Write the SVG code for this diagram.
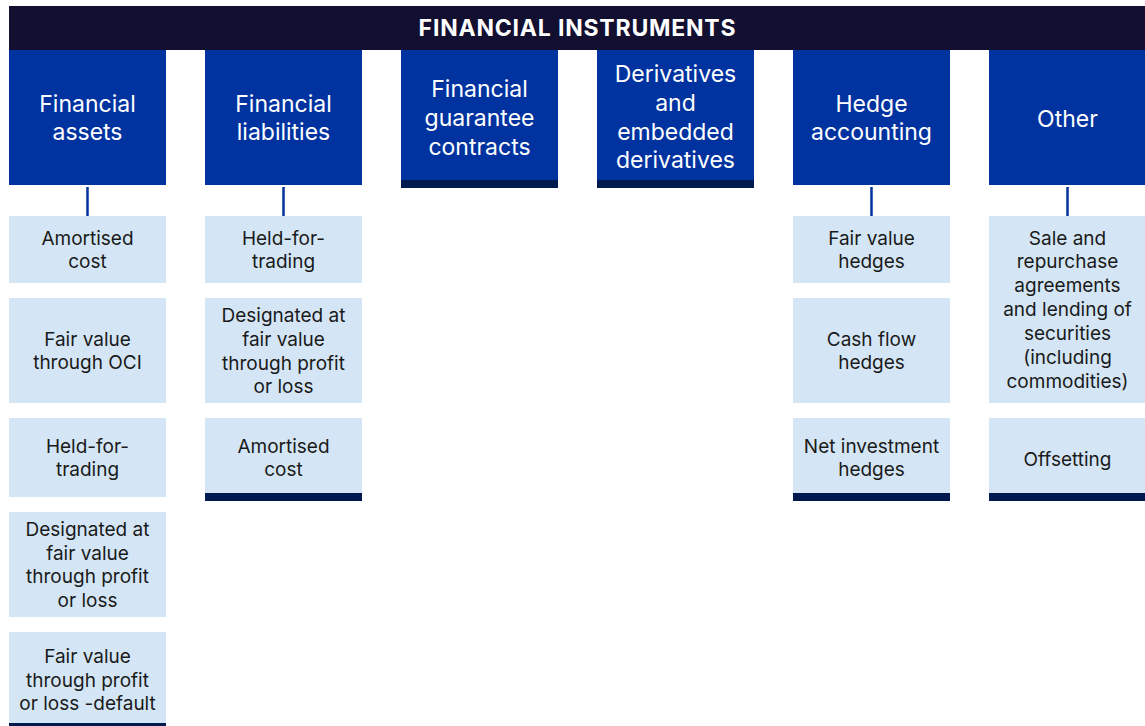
<svg xmlns="http://www.w3.org/2000/svg" width="1145" height="726" viewBox="0 0 1145 726">
<style>
.title{font-family:Inter,"Liberation Sans",sans-serif;font-weight:bold;font-size:23px;letter-spacing:0.8px;fill:#fff;text-anchor:middle}
.hd{fill:#0033a0}
.ht{font-family:Inter,"Liberation Sans",sans-serif;font-size:23px;fill:#fff;text-anchor:middle}
.sb{fill:#d4e6f5}
.st{font-family:Inter,"Liberation Sans",sans-serif;font-size:19px;fill:#1a1a1a;text-anchor:middle}
.bar{fill:#001a4f}
.conn{stroke:#0033a0;stroke-width:2.5;fill:none}
</style>
<rect width="1145" height="726" fill="#fff"/>
<g id="title">
<rect x="9" y="6" width="1140" height="44" fill="#120f30"/>
<text class="title" x="577.5" y="36">FINANCIAL INSTRUMENTS</text>
</g>
<g id="connectors">
<line class="conn" x1="87.5" y1="187" x2="87.5" y2="216"/>
<line class="conn" x1="283.5" y1="187" x2="283.5" y2="216"/>
<line class="conn" x1="871.5" y1="187" x2="871.5" y2="216"/>
<line class="conn" x1="1067.5" y1="187" x2="1067.5" y2="216"/>
</g>
<g id="h-assets">
<rect class="hd" x="9" y="50" width="157" height="135"/>
<text class="ht" x="87.5" y="112">Financial</text>
<text class="ht" x="87.5" y="140">assets</text>
</g>
<g id="h-liabilities">
<rect class="hd" x="205" y="50" width="157" height="135"/>
<text class="ht" x="283.5" y="112">Financial</text>
<text class="ht" x="283.5" y="140">liabilities</text>
</g>
<g id="h-guarantee">
<rect class="hd" x="401" y="50" width="157" height="130"/>
<rect class="bar" x="401" y="180" width="157" height="8"/>
<text class="ht" x="479.5" y="97">Financial</text>
<text class="ht" x="479.5" y="126">guarantee</text>
<text class="ht" x="479.5" y="155">contracts</text>
</g>
<g id="h-derivatives">
<rect class="hd" x="597" y="50" width="157" height="130"/>
<rect class="bar" x="597" y="180" width="157" height="8"/>
<text class="ht" x="675.5" y="82">Derivatives</text>
<text class="ht" x="675.5" y="111">and</text>
<text class="ht" x="675.5" y="140">embedded</text>
<text class="ht" x="675.5" y="168">derivatives</text>
</g>
<g id="h-hedge">
<rect class="hd" x="793" y="50" width="157" height="135"/>
<text class="ht" x="871.5" y="112">Hedge</text>
<text class="ht" x="871.5" y="140">accounting</text>
</g>
<g id="h-other">
<rect class="hd" x="989" y="50" width="157" height="135"/>
<text class="ht" x="1067.5" y="127">Other</text>
</g>
<g id="a-amortised">
<rect class="sb" x="9" y="216" width="157" height="67"/>
<text class="st" x="87.5" y="245">Amortised</text>
<text class="st" x="87.5" y="268">cost</text>
</g>
<g id="a-fvoci">
<rect class="sb" x="9" y="298" width="157" height="105"/>
<text class="st" x="87.5" y="346">Fair value</text>
<text class="st" x="87.5" y="369">through OCI</text>
</g>
<g id="a-hft">
<rect class="sb" x="9" y="418" width="157" height="79"/>
<text class="st" x="87.5" y="453">Held-for-</text>
<text class="st" x="87.5" y="476">trading</text>
</g>
<g id="a-designated">
<rect class="sb" x="9" y="512" width="157" height="105"/>
<text class="st" x="87.5" y="536">Designated at</text>
<text class="st" x="87.5" y="560">fair value</text>
<text class="st" x="87.5" y="583">through profit</text>
<text class="st" x="87.5" y="607">or loss</text>
</g>
<g id="a-default">
<rect class="sb" x="9" y="632" width="157" height="91"/>
<rect class="bar" x="9" y="723" width="157" height="8"/>
<text class="st" x="87.5" y="663">Fair value</text>
<text class="st" x="87.5" y="687">through profit</text>
<text class="st" x="87.5" y="710">or loss -default</text>
</g>
<g id="l-hft">
<rect class="sb" x="205" y="216" width="157" height="67"/>
<text class="st" x="283.5" y="245">Held-for-</text>
<text class="st" x="283.5" y="268">trading</text>
</g>
<g id="l-designated">
<rect class="sb" x="205" y="298" width="157" height="105"/>
<text class="st" x="283.5" y="322">Designated at</text>
<text class="st" x="283.5" y="346">fair value</text>
<text class="st" x="283.5" y="370">through profit</text>
<text class="st" x="283.5" y="393">or loss</text>
</g>
<g id="l-amortised">
<rect class="sb" x="205" y="418" width="157" height="75"/>
<rect class="bar" x="205" y="493" width="157" height="8"/>
<text class="st" x="283.5" y="453">Amortised</text>
<text class="st" x="283.5" y="476">cost</text>
</g>
<g id="h-fv">
<rect class="sb" x="793" y="216" width="157" height="67"/>
<text class="st" x="871.5" y="245">Fair value</text>
<text class="st" x="871.5" y="268">hedges</text>
</g>
<g id="h-cf">
<rect class="sb" x="793" y="298" width="157" height="105"/>
<text class="st" x="871.5" y="346">Cash flow</text>
<text class="st" x="871.5" y="369">hedges</text>
</g>
<g id="h-ni">
<rect class="sb" x="793" y="418" width="157" height="75"/>
<rect class="bar" x="793" y="493" width="157" height="8"/>
<text class="st" x="871.5" y="453">Net investment</text>
<text class="st" x="871.5" y="476">hedges</text>
</g>
<g id="o-repo">
<rect class="sb" x="989" y="216" width="157" height="187"/>
<text class="st" x="1067.5" y="245">Sale and</text>
<text class="st" x="1067.5" y="268">repurchase</text>
<text class="st" x="1067.5" y="292">agreements</text>
<text class="st" x="1067.5" y="316">and lending of</text>
<text class="st" x="1067.5" y="340">securities</text>
<text class="st" x="1067.5" y="364">(including</text>
<text class="st" x="1067.5" y="388">commodities)</text>
</g>
<g id="o-offsetting">
<rect class="sb" x="989" y="418" width="157" height="75"/>
<rect class="bar" x="989" y="493" width="157" height="8"/>
<text class="st" x="1067.5" y="466">Offsetting</text>
</g>
</svg>
